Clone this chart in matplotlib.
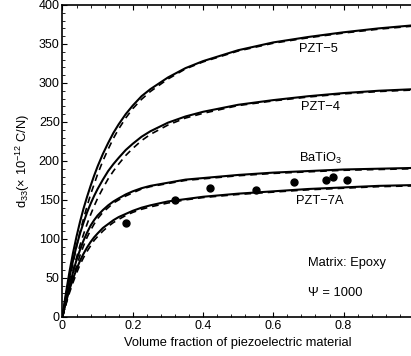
import numpy as np
import matplotlib
matplotlib.use('Agg')
from matplotlib import pyplot as plt
from matplotlib.ticker import MultipleLocator

plt.rcParams['font.family'] = ['Liberation Sans', 'DejaVu Sans']
plt.rcParams['mathtext.fontset'] = 'custom'
plt.rcParams['mathtext.rm'] = 'Liberation Sans'
plt.rcParams['mathtext.it'] = 'Liberation Sans'
plt.rcParams['mathtext.default'] = 'regular'

#volume fraction samples
vf = [0, 0.005, 0.01, 0.02, 0.03, 0.04, 0.05, 0.06, 0.07, 0.08, 0.09, 0.1,
      0.115, 0.13, 0.145, 0.16, 0.18, 0.2, 0.225, 0.25, 0.3, 0.35, 0.4,
      0.5, 0.6, 0.7, 0.8, 0.9, 1.0]

#solid curves
pzt5 = [0, 16, 31, 58, 82, 103, 122, 139, 154, 168, 181, 193,
        209, 223, 236, 247, 260, 271, 283, 292, 307, 319, 328,
        342, 352, 359, 365, 370, 374]
pzt4 = [0, 14, 27, 51, 72, 91, 107, 121, 134, 145, 155, 164,
        176, 187, 196, 204, 214, 222, 231, 238, 249, 257, 263,
        272, 278, 283, 287, 290, 292]
bati = [0, 11, 21, 40, 57, 73, 86, 98, 108, 117, 124, 130,
        137, 143, 148, 152, 157, 161, 165, 168, 172, 176, 178,
        182, 185, 187, 189, 190, 191]
pzt7a = [0, 10, 19, 35, 49, 61, 72, 81, 89, 96, 102, 107,
         114, 119, 124, 128, 132, 136, 140, 143, 148, 151, 154,
         158, 161, 164, 166, 168, 169]

#dashed curves
pzt5_d = [0, 12, 24, 47, 69, 90, 109, 126, 142, 157, 170, 183,
          200, 215, 229, 241, 255, 267, 279, 289, 305, 318, 327,
          341, 351, 358, 364, 369, 373]
pzt4_d = [0, 10, 20, 40, 59, 76, 92, 106, 119, 131, 142, 152,
          165, 177, 187, 196, 207, 216, 226, 234, 246, 255, 261,
          271, 277, 282, 286, 289, 291]
bati_d = [0, 8, 17, 34, 50, 65, 79, 91, 102, 111, 119, 126,
          134, 140, 146, 150, 155, 159, 164, 167, 171, 175, 177,
          181, 184, 186, 188, 189, 190]
pzt7a_d = [0, 8, 16, 31, 44, 56, 67, 76, 84, 91, 98, 103,
           110, 116, 121, 125, 130, 134, 138, 141, 146, 150, 153,
           157, 160, 163, 165, 167, 168]

#experimental points
exp_x = [0.18, 0.32, 0.42, 0.55, 0.66, 0.75, 0.77, 0.81]
exp_y = [120, 150, 165, 163, 173, 176, 179, 176]

fig = plt.figure(figsize=(4.11, 3.56), dpi=100)
ax = fig.add_axes([0.152, 0.11, 0.855, 0.876])

for s in [pzt5, pzt4, bati, pzt7a]:
    ax.plot(vf, s, color='black', lw=1.5)
for s in [pzt5_d, pzt4_d, bati_d, pzt7a_d]:
    ax.plot(vf, s, color='black', lw=1.2, ls=(0, (4, 3)))
ax.plot(exp_x, exp_y, 'o', color='black', ms=5)

fs = 9.3
ax.text(0.728, 344, 'PZT\u22125', ha='center', va='center', fontsize=fs)
ax.text(0.733, 269, 'PZT\u22124', ha='center', va='center', fontsize=fs)
ax.text(0.734, 203, 'BaTiO$_3$', ha='center', va='center', fontsize=fs)
ax.text(0.733, 148, 'PZT\u22127A', ha='center', va='center', fontsize=fs)
ax.text(0.70, 69, 'Matrix: Epoxy', ha='left', va='center', fontsize=fs)
ax.text(0.70, 31, '\u03a8 = 1000', ha='left', va='center', fontsize=fs)

ax.set_xlim(0, 1)
ax.set_ylim(0, 400)
ax.set_xticks([0, 0.2, 0.4, 0.6, 0.8])
ax.set_xticklabels(['0', '0.2', '0.4', '0.6', '0.8'])
ax.set_yticks(np.arange(0, 401, 50))
ax.xaxis.set_minor_locator(MultipleLocator(0.04))
ax.yaxis.set_minor_locator(MultipleLocator(10))
ax.tick_params(which='both', direction='in', top=True, right=False, labelsize=9, pad=2)
ax.tick_params(which='major', length=3.5)
ax.tick_params(which='minor', length=2)
for sp in ax.spines.values():
    sp.set_linewidth(1.2)

ax.set_xlabel('Volume fraction of piezoelectric material', fontsize=9.3, labelpad=4)
ax.set_ylabel('d$_{33}$($\\times$ 10$^{-12}$ C/N)', fontsize=9.3, labelpad=4.5)

plt.savefig('out.png', dpi=100)
